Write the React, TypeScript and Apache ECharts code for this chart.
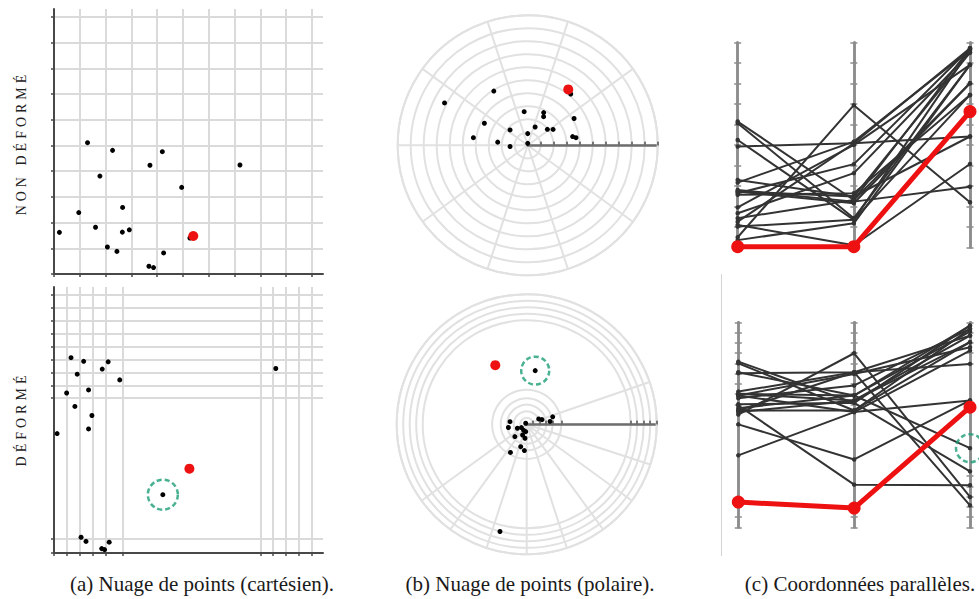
import React, { useEffect, useRef } from 'react';
import * as echarts from 'echarts';

// ---------- tick values ----------
const unitTicks = [0, 1, 2, 3, 4, 5, 6, 7, 8, 9, 10];
const warpTicksX = [0, 0.5, 1, 1.5, 2, 2.66, 8, 8.5, 9, 9.5, 10];
const warpTicksY = [0, 0.55, 6, 6.5, 7, 7.5, 8, 8.5, 9, 9.5, 10];
const polarAngleTicksTop = [0, 36, 72, 108, 144, 180, 216, 252, 288, 324];
const polarAngleTicksBottom = [0, 19, 216, 234, 252, 270, 288, 306, 324, 342];
const polarRadiusTicksTop = [1, 2, 3, 4, 5, 6, 7, 8, 9, 10];
const polarRadiusTicksBottom = [0.5, 1, 1.5, 2, 2.66, 8, 8.5, 9, 9.5, 10];
const parallelTicksBottomAB = [0, 0.5, 6, 6.5, 7, 7.5, 8, 8.5, 9, 9.5, 10];
const parallelTicksBottomC = [0, 0.5, 1, 1.5, 2, 2.5, 8, 8.5, 9, 9.5, 10];

// ---------- texts ----------
const rowLabels = ['NON DÉFORMÉ', 'DÉFORMÉ'];
const captions = [
  '(a) Nuage de points (cartésien).',
  '(b) Nuage de points (polaire).',
  '(c) Coordonnées parallèles.',
];

// ---------- (a) cartesian, undeformed ----------
const cartTopX = [0.21, 0.96, 1.3, 1.61, 1.78, 2.07, 2.27, 2.44, 2.66, 2.65, 2.92, 3.68, 3.86, 3.72, 4.2, 4.25, 4.95, 7.21, 5.27];
const cartTopY = [1.62, 2.39, 5.11, 1.82, 3.81, 1.05, 4.81, 0.88, 2.59, 1.63, 1.72, 0.3, 0.25, 4.23, 4.76, 0.82, 3.37, 4.24, 1.4];
const cartTopRed = [5.4, 1.48];

// ---------- (a) cartesian, deformed ----------
const cartBotX = [0.66, 1.15, 2.1, 1.87, 0.9, 2.55, 1.34, 0.49, 0.81, 1.47, 1.34, 0.12, 8.6, 4.22, 1.05, 1.24, 2.14, 1.85, 1.96];
const cartBotY = [7.57, 7.43, 7.41, 7.13, 6.93, 6.71, 6.32, 6.2, 5.68, 5.33, 4.81, 4.63, 7.15, 2.26, 0.61, 0.45, 0.42, 0.17, 0.13];
const cartBotRed = [5.25, 3.27];
const cartBotHighlight = [4.22, 2.26];

// ---------- (b) polar, undeformed ----------
const polarTopR = [7.18, 4.92, 3.74, 4.22, 2.32, 1.36, 1.8, 0.15, 0.9, 2.6, 1.52, 2.8, 2.52, 1.95, 2.3, 4.12, 3.52, 3.76, 5.15];
const polarTopA = [153, 122, 153, 172, 174, 184, 139, 90, 90, 96, 68, 64, 61, 39, 32, 30, 11, 9, 50];
const polarTopRed = [5.31, 54];

// ---------- (b) polar, deformed ----------
const polarBotR = [1.3, 1.43, 0.78, 0.48, 0.11, 0.57, 0.88, 1.08, 1.31, 1.78, 2.03, 2.5, 1.01, 1.23, 1.81, 2.08, 0.52, 4.18, 8.5];
const polarBotA = [171, 190, 203, 212, 135, 262, 249, 263, 226, 255, 265, 240, 24, 17, 7, 16, 243, 81, 256];
const polarBotRed = [5.15, 118];
const polarBotHighlight = [4.18, 81];

// ---------- (c) parallel, undeformed ----------
const parTopA = [6.14, 6.06, 5.24, 4.92, 3.29, 3.16, 2.8, 2.72, 2.64, 2.56, 1.95, 1.66, 1.42, 1.25, 1.09, 1.01, 0.49, 0.35, 2.72];
const parTopB = [2.31, 1.42, 1.34, 5.08, 2.48, 5.16, 2.23, 2.15, 4.06, 2.64, 5.0, 3.62, 2.31, 5.08, 0.1, 1.34, 6.94, 1.17, 2.48];
const parTopC = [9.72, 8.91, 9.64, 5.41, 9.51, 9.64, 2.96, 8.01, 9.72, 7.44, 8.91, 9.51, 8.01, 9.72, 4.07, 7.44, 2.2, 8.91, 5.41];
const parTopRed = [0.03, 0.03, 6.63];

// ---------- (c) parallel, deformed ----------
const parBotA = [8.08, 8.0, 7.56, 7.52, 6.62, 6.51, 6.43, 6.43, 6.3, 5.5, 5.81, 5.7, 5.02, 5.62, 3.51, 5.94, 6.51, 6.0, 5.7];
const parBotB = [6.07, 5.7, 6.43, 7.56, 7.56, 6.19, 7.48, 5.62, 6.92, 8.49, 6.43, 7.56, 3.31, 6.19, 5.62, 2.08, 6.43, 6.07, 5.7];
const parBotC = [9.84, 9.68, 9.55, 9.35, 1.07, 9.03, 8.78, 8.62, 9.68, 1.48, 9.84, 7.97, 6.19, 9.35, 6.19, 2.05, 3.86, 2.73, 9.03];
const parBotRed = [1.23, 0.94, 5.86];
const parBotHighlight = [2, 3.86];

// ---------- styles ----------
const GRID = '#dadada';
const AXIS = '#484848';
const POLAR_GRID = '#e1e1e1';
const POLAR_AXIS = '#6e6e6e';
const PAR_AXIS = '#8c8c8c';
const LINE = '#333333';
const RED = '#ee1111';
const GREEN = '#1b9e77';

function cartAxis(gridIndex: number, max: number, ticks: number[]) {
  return {
    type: 'value',
    gridIndex,
    min: 0,
    max,
    axisLine: { show: true, onZero: false, lineStyle: { color: AXIS, width: 2 } },
    axisTick: { show: true, customValues: ticks, length: 3, lineStyle: { color: AXIS, width: 1.5 } },
    axisLabel: { show: false },
    splitLine: { show: true, lineStyle: { color: GRID, width: 2 } },
  };
}

function hiddenAxis(gridIndex: number, max: number) {
  return { type: 'value', gridIndex, min: 0, max, show: false };
}

// one vertical axis of the parallel-coordinate panels (drawn twice: ticks outside + inside => crossing ticks)
function parY(gridIndex: number, offset: number, ticks: number[], inside: boolean) {
  return {
    type: 'value',
    gridIndex,
    position: 'left',
    offset,
    min: 0,
    max: 10,
    axisLine: { show: true, onZero: false, lineStyle: { color: PAR_AXIS, width: 2.5 } },
    axisTick: { show: true, inside, customValues: ticks, length: 3.5, lineStyle: { color: PAR_AXIS, width: 1.5 } },
    axisLabel: { show: false },
    splitLine: { show: false },
  };
}

function zip(xs: number[], ys: number[]) {
  return xs.map((x, i) => [x, ys[i]]);
}

function rows(a: number[], b: number[], c: number[]) {
  return a.map((v, i) => [v, b[i], c[i]]);
}

function dots(name: string, extra: any, data: any[], size: number, color: string, z = 3) {
  return {
    name,
    type: 'scatter',
    ...extra,
    data,
    symbol: 'circle',
    symbolSize: size,
    itemStyle: { color, opacity: 1 },
    z,
    silent: true,
    clip: false,
    emphasis: { disabled: true },
  };
}

function ring(name: string, extra: any, data: any[], size: number) {
  return {
    name,
    type: 'scatter',
    ...extra,
    data,
    symbol: 'circle',
    symbolSize: size,
    itemStyle: { color: 'rgba(0,0,0,0)', borderColor: GREEN, borderWidth: 2.5, borderType: [5, 3] },
    z: 6,
    silent: true,
    clip: false,
    emphasis: { disabled: true },
  };
}

function polyline(name: string, axisIndex: number, row: number[], color: string, width: number, size: number, z: number) {
  return {
    name,
    type: 'line',
    xAxisIndex: axisIndex,
    yAxisIndex: axisIndex,
    data: row.map((v, k) => [k, v]),
    symbol: 'circle',
    symbolSize: size,
    showSymbol: true,
    showAllSymbol: true,
    lineStyle: { color, width },
    itemStyle: { color, opacity: 1 },
    z,
    silent: true,
    clip: false,
    emphasis: { disabled: true },
  };
}

function angleAxis(polarIndex: number, ticks: number[], visible = true) {
  return {
    polarIndex,
    type: 'value',
    min: 0,
    max: 360,
    startAngle: 0,
    clockwise: false,
    show: visible,
    axisLine: { show: visible, lineStyle: { color: POLAR_GRID, width: 2 } },
    axisTick: { show: false, customValues: ticks },
    axisLabel: { show: false },
    splitLine: { show: visible, lineStyle: { color: POLAR_GRID, width: 2 } },
  };
}

function radiusAxis(polarIndex: number, ticks: number[], inside = false) {
  return {
    polarIndex,
    type: 'value',
    min: 0,
    max: 10,
    axisLine: { show: !inside, lineStyle: { color: POLAR_AXIS, width: 2.5 } },
    axisTick: { show: true, inside, customValues: ticks, length: 3.5, lineStyle: { color: POLAR_AXIS, width: 1.5 } },
    axisLabel: { show: false },
    splitLine: { show: !inside, lineStyle: { color: POLAR_GRID, width: 2 } },
  };
}

function buildOption() {
  const topLines = rows(parTopA, parTopB, parTopC);
  const botLines = rows(parBotA, parBotB, parBotC);
  const serif = "'Liberation Serif', serif";
  const labelFont = "'Liberation Serif', Times, serif";
  const wTop = 232.3;
  const wBot = 231.7;
  const polarTop = { center: [527.7, 145.3], radius: 130 };
  const polarBot = { center: [526.7, 424.3], radius: 130 };

  const yAxes: any[] = [
    cartAxis(0, 10.31, unitTicks),
    cartAxis(1, 10.31, warpTicksY),
    hiddenAxis(2, 10),
    hiddenAxis(3, 10),
  ];
  [0, 1, 2].forEach((k) => {
    yAxes.push(parY(2, -k * wTop / 2, unitTicks, false));
    yAxes.push(parY(2, -k * wTop / 2, unitTicks, true));
  });
  [0, 1, 2].forEach((k) => {
    const t = k === 2 ? parallelTicksBottomC : parallelTicksBottomAB;
    yAxes.push(parY(3, -k * wBot / 2, t, false));
    yAxes.push(parY(3, -k * wBot / 2, t, true));
  });

  return {
    animation: false,
    grid: [
      { left: 54, top: 9, width: 269, height: 265 },
      { left: 54, top: 287, width: 269, height: 266 },
      { left: 737.7, top: 42.5, width: wTop, height: 204.8 },
      { left: 738.3, top: 322.3, width: wBot, height: 205 },
    ],
    xAxis: [cartAxis(0, 10.43, unitTicks), cartAxis(1, 10.43, warpTicksX), hiddenAxis(2, 2), hiddenAxis(3, 2)],
    yAxis: yAxes,
    polar: [polarTop, polarBot, polarTop, polarBot],
    angleAxis: [
      angleAxis(0, polarAngleTicksTop),
      angleAxis(1, polarAngleTicksBottom),
      angleAxis(2, polarAngleTicksTop, false),
      angleAxis(3, polarAngleTicksBottom, false),
    ],
    radiusAxis: [
      radiusAxis(0, polarRadiusTicksTop),
      radiusAxis(1, polarRadiusTicksBottom),
      radiusAxis(2, polarRadiusTicksTop, true),
      radiusAxis(3, polarRadiusTicksBottom, true),
    ],
    series: [
      // (a)
      dots('cartTop', { xAxisIndex: 0, yAxisIndex: 0 }, zip(cartTopX, cartTopY), 5, '#000'),
      dots('cartTopRed', { xAxisIndex: 0, yAxisIndex: 0 }, [cartTopRed], 10, RED, 5),
      dots('cartBot', { xAxisIndex: 1, yAxisIndex: 1 }, zip(cartBotX, cartBotY), 5, '#000'),
      dots('cartBotRed', { xAxisIndex: 1, yAxisIndex: 1 }, [cartBotRed], 10, RED, 5),
      ring('cartBotRing', { xAxisIndex: 1, yAxisIndex: 1 }, [cartBotHighlight], 30),
      // (b)
      dots('polTop', { coordinateSystem: 'polar', polarIndex: 0 }, zip(polarTopR, polarTopA), 5, '#000'),
      dots('polTopRed', { coordinateSystem: 'polar', polarIndex: 0 }, [polarTopRed], 10, RED, 5),
      dots('polBot', { coordinateSystem: 'polar', polarIndex: 1 }, zip(polarBotR, polarBotA), 5, '#000'),
      dots('polBotRed', { coordinateSystem: 'polar', polarIndex: 1 }, [polarBotRed], 10, RED, 5),
      ring('polBotRing', { coordinateSystem: 'polar', polarIndex: 1 }, [polarBotHighlight], 28),
      // (c)
      ...topLines.map((r, i) => polyline('parTop' + i, 2, r, LINE, 2, 4.5, 2)),
      polyline('parTopRed', 2, parTopRed, RED, 5, 13, 4),
      ...botLines.map((r, i) => polyline('parBot' + i, 3, r, LINE, 2, 4.5, 2)),
      polyline('parBotRed', 3, parBotRed, RED, 5, 13, 4),
      ring('parBotRing', { xAxisIndex: 3, yAxisIndex: 3 }, [parBotHighlight], 28),
    ],
    graphic: [
      {
        type: 'line', silent: true,
        shape: { x1: 721.5, y1: 274, x2: 721.5, y2: 556 },
        style: { stroke: '#d4d4d4', lineWidth: 1 },
      },
      {
        type: 'text', x: 21, y: 143, rotation: Math.PI / 2, silent: true,
        style: { text: rowLabels[0], fill: '#222', fontSize: 14, fontFamily: labelFont, textAlign: 'center', textVerticalAlign: 'middle' },
      },
      {
        type: 'text', x: 21, y: 419, rotation: Math.PI / 2, silent: true,
        style: { text: rowLabels[1], fill: '#222', fontSize: 14, fontFamily: labelFont, textAlign: 'center', textVerticalAlign: 'middle' },
      },
      {
        type: 'text', x: 202, y: 584, silent: true,
        style: { text: captions[0], fill: '#1a1a1a', fontSize: 21, fontFamily: serif, textAlign: 'center', textVerticalAlign: 'middle' },
      },
      {
        type: 'text', x: 530, y: 584, silent: true,
        style: { text: captions[1], fill: '#1a1a1a', fontSize: 21, fontFamily: serif, textAlign: 'center', textVerticalAlign: 'middle' },
      },
      {
        type: 'text', x: 860, y: 584, silent: true,
        style: { text: captions[2], fill: '#1a1a1a', fontSize: 21, fontFamily: serif, textAlign: 'center', textVerticalAlign: 'middle' },
      },
    ],
  };
}

export default function App() {
  const ref = useRef<HTMLDivElement>(null);
  useEffect(() => {
    document.body.style.margin = '0';
    const chart = echarts.init(ref.current as HTMLDivElement, undefined, { renderer: 'svg' });
    chart.setOption(buildOption() as any);
    return () => chart.dispose();
  }, []);
  return (
    <>
      <style>{'text[style*="Times"]{letter-spacing:4px;}'}</style>
      <div ref={ref} style={{ width: 979, height: 599 }} />
    </>
  );
}
